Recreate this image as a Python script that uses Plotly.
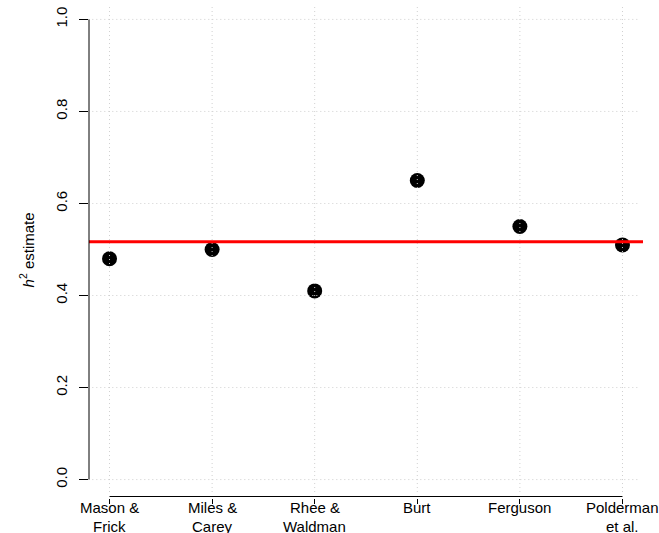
import plotly.graph_objects as go

studies = ["Mason &<br>Frick", "Miles &<br>Carey", "Rhee &<br>Waldman", "Burt", "Ferguson", "Polderman<br>et al."]
h2 = [0.48, 0.50, 0.41, 0.65, 0.55, 0.51]
y_ticks = [0.0, 0.2, 0.4, 0.6, 0.8, 1.0]
y_labels = ["0.0", "0.2", "0.4", "0.6", "0.8", "1.0"]

xpos = list(range(1, len(studies) + 1))
mean_h2 = sum(h2) / len(h2)

FONT = "Liberation Sans, Arial, Helvetica, sans-serif"
GRID = dict(color="#cfcfcf", width=1, dash="1px,3px")

fig = go.Figure()
fig.add_trace(go.Scatter(
    x=xpos, y=h2, mode="markers",
    marker=dict(color="black", size=15, line=dict(width=0)),
    showlegend=False, hoverinfo="skip"))

shapes = []
# dotted grid, drawn above points like the reference
for xv in xpos:
    shapes.append(dict(type="line", xref="x", yref="paper", x0=xv, x1=xv, y0=0.012, y1=0.992,
                       line=GRID, layer="above"))
for yv in y_ticks:
    shapes.append(dict(type="line", xref="paper", yref="y", x0=0.006, x1=0.994, y0=yv, y1=yv,
                       line=GRID, layer="above"))
# mean line
shapes.append(dict(type="line", xref="paper", yref="y", x0=0, x1=1, y0=mean_h2, y1=mean_h2,
                   line=dict(color="#ff0000", width=3), layer="above"))
# R-style axis lines (only between first and last tick)
shapes.append(dict(type="line", xref="paper", yref="y", x0=0, x1=0, y0=y_ticks[0], y1=y_ticks[-1],
                   line=dict(color="black", width=1)))
shapes.append(dict(type="line", xref="x", yref="paper", x0=xpos[0], x1=xpos[-1], y0=0.003, y1=0.003,
                   line=dict(color="black", width=1)))

annotations = [dict(text="<i>h</i><sup>2</sup> estimate", xref="paper", yref="paper",
                    x=-0.112, y=0.5, xanchor="center", yanchor="middle", textangle=-90,
                    showarrow=False, font=dict(size=15))]
for xv, lab in zip(xpos, studies):
    for i, line in enumerate(lab.split("<br>")):
        annotations.append(dict(text=line, xref="x", yref="paper", x=xv, y=0, xanchor="center",
                                yanchor="top", yshift=1 - 18.5 * i, showarrow=False,
                                font=dict(size=15)))

fig.update_layout(
    width=659, height=533,
    margin=dict(l=89, r=16, t=1, b=35),
    paper_bgcolor="white", plot_bgcolor="white",
    font=dict(family=FONT, size=15, color="black"),
    shapes=shapes,
    annotations=annotations,
    xaxis=dict(range=[0.8, 6.2], tickvals=xpos, ticktext=[""] * len(xpos), showgrid=False,
               zeroline=False, showline=False, ticks="outside", ticklen=5, tickcolor="black",
               automargin=False),
    yaxis=dict(range=[-0.04, 1.04], tickvals=y_ticks, ticktext=y_labels, showgrid=False,
               zeroline=False, showline=False, ticks="outside", ticklen=9, tickcolor="black",
               tickangle=-90, tickfont=dict(size=15), automargin=False, ticklabelstandoff=6),
)

fig.write_html("out.html")
